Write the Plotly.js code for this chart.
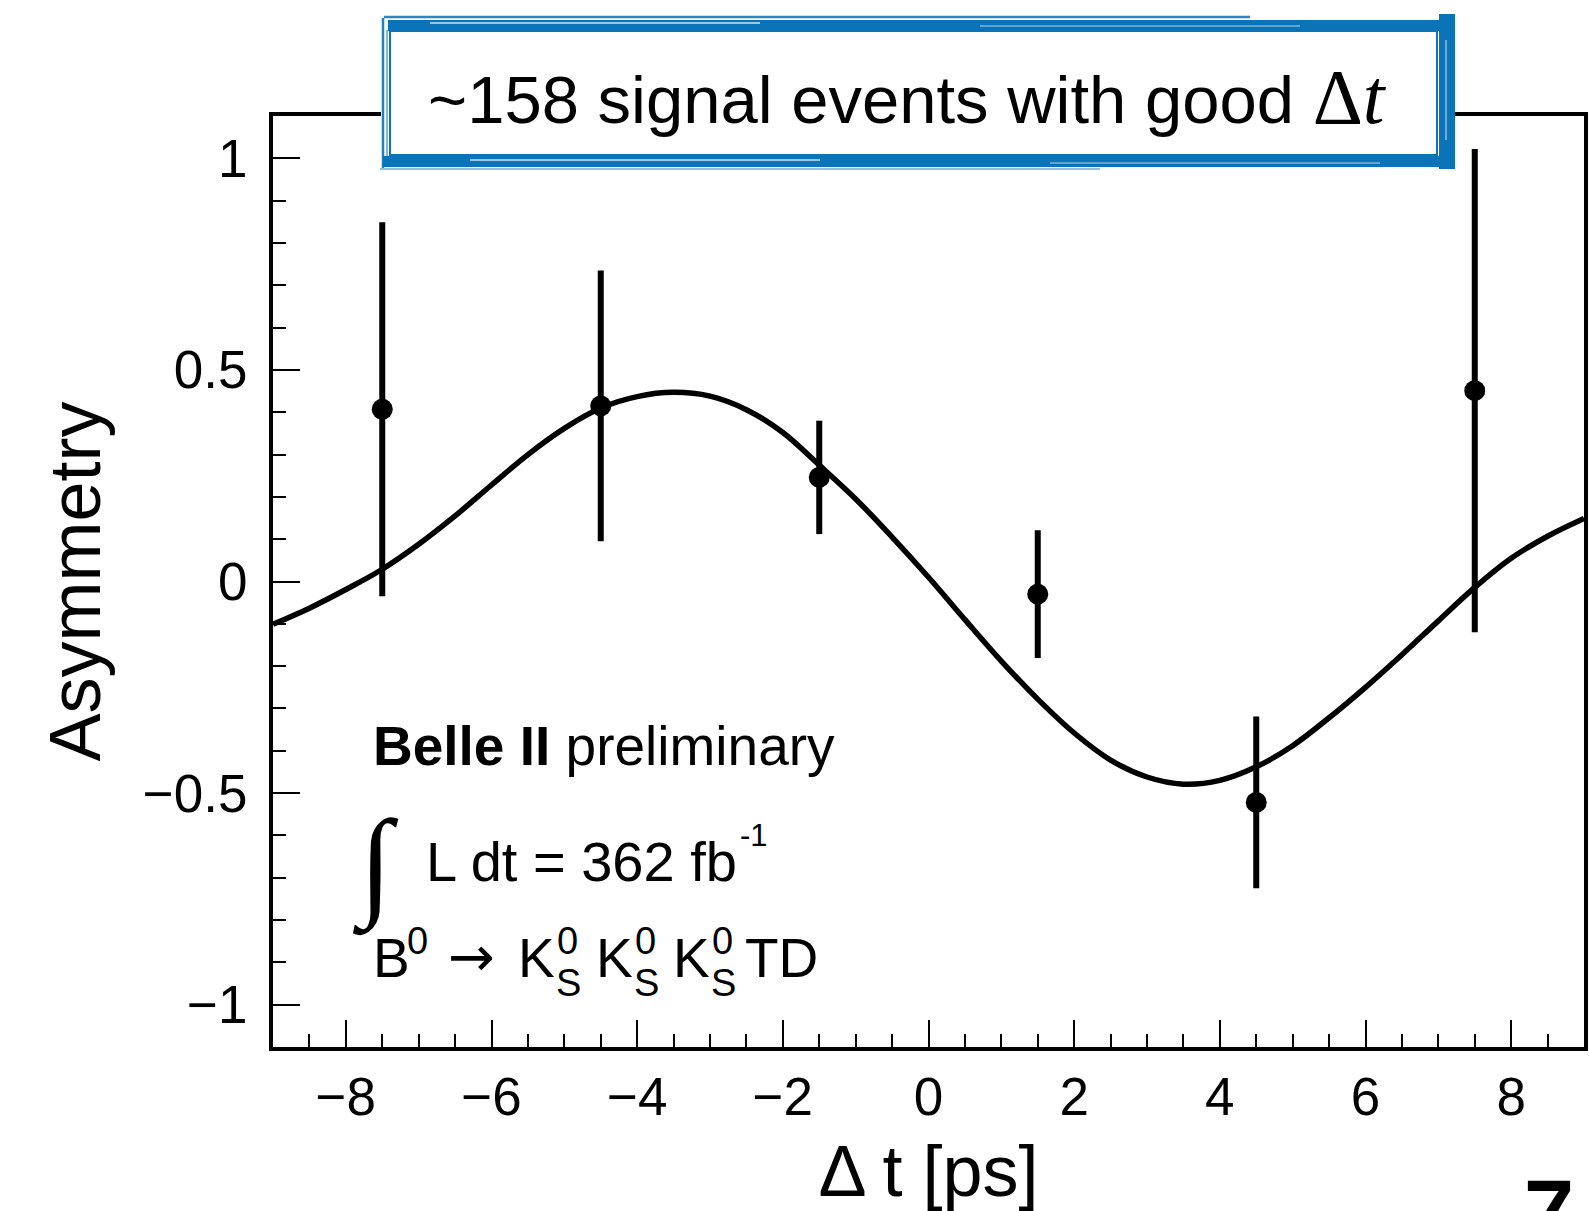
<!DOCTYPE html>
<html><head><meta charset="utf-8">
<script src="https://cdn.plot.ly/plotly-3.0.1.min.js"></script>
<style>html,body{margin:0;padding:0;background:#fff;overflow:hidden}#chart{width:1589px;height:1211px}</style>
</head><body><div id="chart"></div>
<script>
// ---- data ----
const binCenters = [-7.5, -4.5, -1.5, 1.5, 4.5, 7.5];
const asymmetry  = [0.407, 0.415, 0.246, -0.030, -0.522, 0.451];
const asymErr    = [0.442, 0.320, 0.134, 0.151, 0.203, 0.571];

const fitDt   = [-9,-8.5,-8,-7.5,-7,-6.5,-6,-5.5,-5,-4.5,-4,-3.5,-3,-2.5,-2,-1.5,-1,-0.5,0,0.5,1,1.5,2,2.5,3,3.5,4,4.5,5,5.5,6,6.5,7,7.5,8,8.5,9];
const fitAsym = [-0.101,-0.063,-0.019,0.029,0.088,0.155,0.228,0.300,0.362,0.410,0.437,0.447,0.438,0.406,0.352,0.275,0.195,0.105,0.010,-0.090,-0.188,-0.278,-0.358,-0.422,-0.462,-0.479,-0.470,-0.438,-0.388,-0.322,-0.250,-0.173,-0.093,-0.014,0.055,0.107,0.149];

const xTickVals = [-8,-6,-4,-2,0,2,4,6,8];
const xTickText = ["\u22128","\u22126","\u22124","\u22122","0","2","4","6","8"];
const yTickVals = [-1,-0.5,0,0.5,1];
const yTickText = ["\u22121","\u22120.5","0","0.5","1"];

const boxText   = "~158 signal events with good <span style='font-family:\"Liberation Serif\";font-size:78px'>\u0394<i>t</i></span>";
const xTitle = "\u0394 t [ps]";
const yTitle = "Asymmetry";

// ---- geometry ----
const W = 1589, H = 1211, ML = 273, MR = 5, MT = 116, MB = 164;
const PW = W - ML - MR, PH = H - MT - MB;
const px = v => (v - ML) / PW;
const py = v => (H - MB - v) / PH;
const BLUE = '#0b73b7';
const SANS = 'Liberation Sans, Arial, Helvetica, sans-serif';

const traces = [
  {x: fitDt, y: fitAsym, type: 'scatter', mode: 'lines',
   line: {color: 'black', width: 5.5, shape: 'spline', smoothing: 1}, hoverinfo: 'skip'},
  {x: binCenters, y: asymmetry, type: 'scatter', mode: 'markers',
   marker: {color: 'black', size: 21},
   error_y: {type: 'data', array: asymErr, visible: true, thickness: 6, width: 0, color: 'black'}}
];

function rect(x0, x1, y0, y1, fill, line, lw, op) {
  return {type: 'rect', xref: 'paper', yref: 'paper', layer: 'above',
    x0: px(x0), x1: px(x1), y0: py(y1), y1: py(y0),
    fillcolor: fill || 'rgba(0,0,0,0)', opacity: op == null ? 1 : op,
    line: {color: line || 'rgba(0,0,0,0)', width: lw || 0}};
}
function seg(x0, y0, x1, y1, color, w, op) {
  return {type: 'line', xref: 'paper', yref: 'paper', layer: 'above',
    x0: px(x0), x1: px(x1), y0: py(y0), y1: py(y1), opacity: op == null ? 1 : op,
    line: {color: color, width: w}};
}

const shapes = [
  rect(381, 1455, 13, 169, 'white'),
  // top band
  rect(388, 1455, 20, 31, BLUE),
  seg(384, 17, 1250, 17, BLUE, 2.5, 0.85),
  seg(430, 23, 760, 23, 'white', 1.5, 0.8),
  seg(980, 26, 1300, 26, 'white', 1.2, 0.7),
  // bottom band
  rect(383, 1455, 156, 167, BLUE),
  seg(380, 169, 1100, 169, BLUE, 1.5, 0.6),
  seg(470, 160, 820, 160, 'white', 1.5, 0.8),
  seg(1050, 163, 1380, 163, 'white', 1.2, 0.7),
  // right band
  rect(1439, 1455, 14, 169, BLUE),
  seg(1446, 40, 1446, 140, 'white', 1.2, 0.7),
  // left thin strokes
  seg(383, 18, 383, 168, BLUE, 2.5, 0.9),
  seg(387, 30, 387, 160, BLUE, 1.5, 0.7),
  // inner outline
  rect(390, 1437, 31, 155, null, BLUE, 2)
];

function ann(text, xPix, yPix, size, opts) {
  return Object.assign({text: text, xref: 'paper', yref: 'paper', x: px(xPix), y: py(yPix),
    xanchor: 'left', yanchor: 'middle', showarrow: false,
    font: {family: SANS, size: size, color: 'black'}}, opts || {});
}

const annotations = [
  ann(boxText, 426, 97, 67),
  ann('<b>Belle II</b> preliminary', 371, 746, 55),
  ann('<b>\u222B</b>', 350, 866, 120, {font: {family: 'Liberation Serif, serif', size: 120, color: 'black'}}),
  ann('L dt = 362 fb', 424, 861, 56),
  ann('-1', 738, 835, 31),
  ann('B', 371, 958, 55),
  ann('0', 405, 941, 38),
  ann('\u2192', 446, 956, 56, {font: {family: 'DejaVu Sans', size: 56, color: 'black'}}),
  ann('K', 516, 958, 55),
  ann('0', 555, 941, 38),
  ann('S', 554, 983, 38),
  ann('K', 594, 958, 55),
  ann('0', 633, 941, 38),
  ann('S', 632, 983, 38),
  ann('K', 671, 958, 55),
  ann('0', 710, 941, 38),
  ann('S', 709, 983, 38),
  ann('TD', 743, 958, 55),
  ann('<b>7</b>', 1522, 1160, 90, {yanchor: 'top'})
];

const axisCommon = {
  showline: true, linecolor: 'black', linewidth: 4, mirror: true,
  ticks: 'inside', ticklen: 27, tickwidth: 2, tickcolor: 'black',
  showgrid: false, zeroline: false, tickmode: 'array',
  tickfont: {family: SANS, size: 53, color: 'black'}
};

const layout = {
  width: W, height: H,
  margin: {l: ML, r: MR, t: MT, b: MB, pad: 0},
  paper_bgcolor: 'white', plot_bgcolor: 'white',
  showlegend: false,
  xaxis: Object.assign({}, axisCommon, {
    range: [-9, 9], tickvals: xTickVals, ticktext: xTickText, ticklabelstandoff: 0,
    minor: {ticks: 'inside', ticklen: 13, tickwidth: 2, tickcolor: 'black', tick0: 0, dtick: 0.5, showgrid: false},
    title: {text: xTitle, font: {family: SANS, size: 72, color: 'black'}, standoff: 46}
  }),
  yaxis: Object.assign({}, axisCommon, {
    range: [-1.1, 1.1], tickvals: yTickVals, ticktext: yTickText, ticklabelstandoff: 11,
    minor: {ticks: 'inside', ticklen: 13, tickwidth: 2, tickcolor: 'black', tick0: 0, dtick: 0.1, showgrid: false},
    title: {text: yTitle, font: {family: SANS, size: 72, color: 'black'}, standoff: 20}
  }),
  shapes: shapes,
  annotations: annotations
};

Plotly.newPlot('chart', traces, layout, {staticPlot: true, displayModeBar: false});
</script>
</body></html>
